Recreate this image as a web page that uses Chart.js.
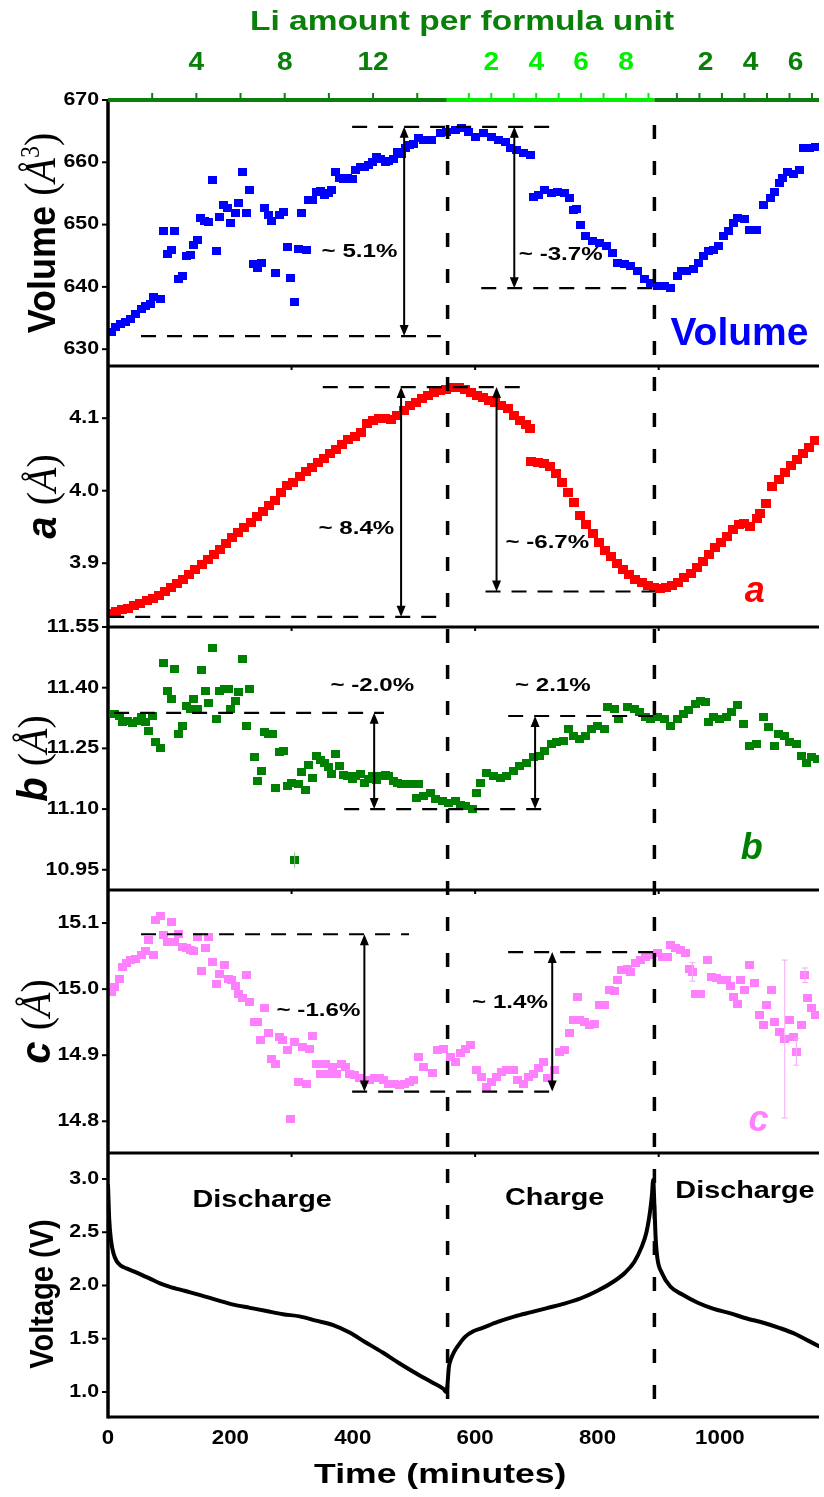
<!DOCTYPE html>
<html>
<head>
<meta charset="utf-8">
<script src="https://cdn.jsdelivr.net/npm/chart.js@4.4.1/dist/chart.umd.min.js"></script>
<style>
  html, body { margin: 0; padding: 0; background: #ffffff; overflow: hidden; }
  canvas { display: block; }
</style>
</head>
<body>
<canvas id="chart" width="824" height="1497"></canvas>
<script>
// ---------------- data (time in minutes) ----------------
const timeTicks = [0, 200, 400, 600, 800, 1000];
const volumeTicks = [630, 640, 650, 660, 670];
const aTicks = [3.9, 4.0, 4.1];
const bTicks = [10.95, 11.10, 11.25, 11.40, 11.55];
const cTicks = [14.8, 14.9, 15.0, 15.1];
const voltageTicks = [1.0, 1.5, 2.0, 2.5, 3.0];
const frameTicks = [300, 600, 900];

// end of first discharge and end of charge
const phaseBounds = [555, 893];

// Li per formula unit along the top axis: [start time, end time, minutes per Li, tick step, labelled values]
const liDischarge1 = [0, 555, 36.1, 2, [4, 8, 12]];
const liCharge = [553, 893, 36.7, 1, [2, 4, 6, 8]];
const liDischarge2 = [893, 1200, 36.8, 1, [2, 4, 6]];

// unit-cell volume (Å^3)
const volumePoints = [
  [5,632.7],[13,633.5],[21,634.0],[29,634.3],[37,634.8],[45,635.6],[54,636.4],[62,636.9],[70,637.2],[75,638.3],
  [86,638.0],[91,648.9],[97,645.2],[103,646.0],[109,648.9],[116,641.2],[122,641.7],[128,644.9],[135,645.1],[140,646.8],
  [147,647.6],[151,651.1],[157,650.6],[164,650.4],[170,657.1],[177,645.8],[183,651.2],[189,653.2],[196,652.7],[201,650.3],
  [208,651.9],[213,653.5],[220,658.5],[226,651.8],[232,655.6],[237,643.6],[244,643.1],[251,643.8],[256,652.7],[262,651.5],
  [267,650.6],[274,642.2],[281,651.5],[287,652.0],[293,646.4],[298,641.5],[304,637.6],[311,646.1],[317,651.8],[324,645.9],
  [328,654.0],[335,654.0],[340,655.2],[347,655.4],[354,654.8],[360,655.0],[366,655.6],[372,658.5],[378,657.5],[385,657.3],
  [392,657.5],[399,657.3],[405,658.8],[412,659.2],[419,659.2],[426,659.6],[432,660.1],[439,660.9],[446,660.6],[453,660.1],
  [459,660.2],[466,660.6],[473,661.7],[480,661.3],[486,662.3],[493,662.8],[500,663.0],[507,663.9],[516,663.6],[529,663.6],
  [543,664.7],[554,664.9],[568,665.2],[578,665.5],[589,664.9],[600,664.1],[614,664.7],[627,664.1],[638,663.6],[649,663.3],
  [657,662.3],[668,662.0],[679,661.5],[690,661.2],
  [695,654.5],[703,654.8],[714,655.6],[725,655.0],[735,655.3],[746,655.0],[754,654.3],[760,652.4],[765,652.5],[772,650.0],
  [781,648.1],[792,647.3],[803,647.1],[814,646.5],[825,645.5],[833,643.9],[844,643.6],[854,643.4],[865,642.5],[876,641.2],
  [887,640.7],[898,640.1],[909,640.1],[919,639.9],[930,641.7],[938,642.5],[946,642.5],[957,642.8],[965,643.9],[973,644.9],
  [981,645.7],[990,646.0],[998,646.5],[1006,648.1],[1014,648.9],[1022,650.3],[1029,651.1],[1041,650.9],[1048,649.2],[1060,649.2],
  [1071,653.2],[1082,654.3],[1090,655.3],[1098,656.7],[1103,657.5],[1111,658.5],[1120,658.2],[1130,658.8],[1136,662.3],[1147,662.3],
  [1157,662.5]
];

// lattice parameter a (Å)
const aPoints = [
  [3,3.830],[13,3.833],[23,3.836],[33,3.838],[43,3.841],[53,3.845],[63,3.849],[73,3.852],[83,3.856],[93,3.861],
  [103,3.866],[113,3.872],[123,3.878],[133,3.884],[143,3.891],[153,3.898],[163,3.905],[173,3.912],[183,3.919],[193,3.927],
  [203,3.935],[213,3.942],[223,3.949],[233,3.956],[243,3.964],[253,3.972],[263,3.980],[273,3.986],[283,3.998],[293,4.007],
  [303,4.012],[313,4.019],[323,4.026],[333,4.032],[343,4.039],[353,4.045],[363,4.051],[373,4.057],[383,4.064],[393,4.071],
  [403,4.075],[413,4.080],[423,4.093],[433,4.097],[443,4.099],[453,4.100],[463,4.098],[473,4.104],[483,4.111],[493,4.117],
  [503,4.122],[513,4.127],[523,4.131],[533,4.135],[543,4.138],[553,4.140],[563,4.142],[573,4.143],[583,4.140],[593,4.135],
  [603,4.131],[613,4.128],[623,4.125],[633,4.121],[643,4.118],[653,4.113],[663,4.104],[673,4.097],[683,4.091],[690,4.086],
  [692,4.040],[702,4.039],[712,4.037],[722,4.034],[732,4.024],[742,4.011],[752,3.998],[762,3.984],[772,3.966],[782,3.953],
  [792,3.941],[802,3.929],[812,3.918],[822,3.909],[832,3.900],[842,3.892],[852,3.884],[862,3.878],[872,3.873],[882,3.869],
  [892,3.866],[902,3.865],[912,3.866],[922,3.869],[932,3.874],[942,3.880],[952,3.886],[962,3.894],[972,3.903],[982,3.912],
  [992,3.921],[1002,3.929],[1012,3.937],[1022,3.946],[1032,3.953],[1040,3.955],[1050,3.950],[1060,3.962],[1066,3.969],[1076,3.982],
  [1086,4.006],[1096,4.015],[1106,4.025],[1116,4.035],[1126,4.043],[1136,4.051],[1146,4.060],[1156,4.069]
];

// lattice parameter b (Å)
const bPoints = [
  [10,11.335],[18,11.331],[24,11.315],[32,11.318],[40,11.313],[48,11.318],[54,11.327],[62,11.315],[67,11.294],[73,11.331],
  [78,11.265],[85,11.252],[91,11.461],[97,11.393],[103,11.373],[109,11.447],[116,11.286],[122,11.306],[128,11.354],[135,11.348],
  [140,11.371],[147,11.348],[152,11.443],[159,11.393],[165,11.363],[170,11.497],[177,11.323],[183,11.393],[190,11.398],[197,11.396],
  [201,11.348],[208,11.368],[213,11.389],[220,11.472],[226,11.306],[232,11.398],[239,11.228],[244,11.169],[251,11.193],[256,11.290],
  [263,11.286],[269,11.286],[274,11.153],[280,11.240],[287,11.243],[293,11.157],[300,11.165],[305,10.973],[311,11.161],[316,11.192],
  [323,11.147],[328,11.209],[335,11.178],[340,11.232],[347,11.222],[354,11.213],[360,11.203],[366,11.186],[372,11.236],[378,11.207],
  [385,11.184],[392,11.181],[399,11.175],[405,11.181],[412,11.186],[419,11.165],[426,11.175],[432,11.181],[439,11.173],[446,11.181],
  [453,11.184],[459,11.181],[466,11.169],[473,11.165],[480,11.161],[486,11.161],[494,11.161],[505,11.128],[508,11.161],[516,11.132],
  [527,11.140],[535,11.124],[546,11.120],[557,11.116],[568,11.120],[576,11.111],[584,11.107],[595,11.099],[603,11.140],[608,11.165],
  [619,11.190],[630,11.182],[641,11.178],[651,11.182],[662,11.194],[673,11.207],[684,11.215],[695,11.228],[706,11.232],[714,11.244],
  [725,11.261],[733,11.265],[744,11.269],[752,11.298],[760,11.281],[771,11.273],[781,11.281],[790,11.298],[800,11.306],[811,11.298],
  [817,11.352],[827,11.348],[835,11.323],[849,11.352],[860,11.348],[868,11.340],[879,11.327],[887,11.323],[898,11.327],[909,11.323],
  [919,11.306],[930,11.323],[941,11.335],[949,11.344],[960,11.360],[968,11.368],[976,11.365],[982,11.315],[990,11.327],[1000,11.323],
  [1011,11.327],[1019,11.340],[1028,11.356],[1038,11.310],[1049,11.256],[1060,11.261],[1071,11.327],[1079,11.302],[1090,11.256],[1095,11.286],
  [1106,11.281],[1114,11.265],[1125,11.261],[1133,11.232],[1141,11.215],[1149,11.228],[1160,11.224]
];

// lattice parameter c (Å)
const cPoints = [
  [5,14.996],[10,15.003],[18,15.016],[24,15.034],[31,15.039],[37,15.044],[45,15.046],[54,15.052],[62,15.057],[67,15.074],
  [74,15.052],[78,15.105],[86,15.110],[91,15.082],[97,15.072],[103,15.102],[109,15.072],[116,15.084],[121,15.064],[128,15.062],
  [135,15.059],[140,15.057],[147,15.079],[152,15.028],[159,15.062],[165,15.079],[170,15.041],[177,15.008],[183,15.023],[190,15.037],
  [197,15.016],[202,15.014],[208,15.004],[213,14.993],[220,14.986],[226,15.021],[232,14.981],[239,14.950],[244,14.950],[249,14.923],
  [256,14.971],[262,14.933],[267,14.895],[274,14.887],[280,14.928],[286,14.923],[293,14.908],[298,14.804],[305,14.920],[311,14.860],
  [318,14.913],[324,14.856],[330,14.910],[335,14.929],[341,14.886],[348,14.872],[355,14.887],[362,14.872],[367,14.882],[373,14.872],
  [381,14.887],[388,14.882],[394,14.872],[403,14.870],[411,14.865],[419,14.862],[427,14.862],[435,14.865],[443,14.865],[451,14.862],
  [459,14.857],[468,14.857],[476,14.855],[484,14.857],[492,14.860],[500,14.863],[508,14.897],[516,14.882],[530,14.873],[538,14.908],
  [549,14.910],[560,14.897],[568,14.890],[576,14.903],[584,14.910],[592,14.915],[603,14.877],[611,14.867],[619,14.852],[627,14.860],
  [635,14.867],[643,14.875],[651,14.877],[662,14.877],[670,14.862],[679,14.857],[687,14.867],[695,14.872],[703,14.880],[711,14.890],
  [719,14.865],[730,14.877],[738,14.905],[746,14.908],[754,14.933],[760,14.953],[768,14.988],[771,14.953],[779,14.950],[787,14.945],
  [795,14.947],[803,14.976],[811,14.976],[820,14.998],[827,14.997],[833,15.014],[839,15.029],[849,15.031],[854,15.026],[862,15.039],
  [871,15.044],[879,15.049],[887,15.052],[898,15.054],[906,15.049],[914,15.049],[919,15.067],[928,15.062],[936,15.059],[944,15.054],
  [951,15.031],[955,15.026],[960,14.993],[969,14.993],[979,15.044],[987,15.019],[995,15.017],[1003,15.014],[1011,15.014],[1017,15.004],
  [1023,14.988],[1029,14.978],[1034,15.014],[1041,14.998],[1048,15.036],[1057,15.009],[1065,14.961],[1071,14.945],[1077,14.976],[1084,14.998],
  [1090,14.950],[1098,14.935],[1106,14.925],[1114,14.953],[1120,14.928],[1125,14.905],[1133,14.945],[1139,15.021],[1144,14.986],[1149,14.971],
  [1157,14.961]
];

// fit uncertainties: [time, low, high]
const bErrorBars = [[305, 10.955, 10.993]];
const cErrorBars = [[1106, 14.805, 15.044], [1125, 14.885, 14.925], [1139, 15.010, 15.032], [955, 15.012, 15.040]];

// cell voltage (V)
const voltagePoints = [
  [0,2.95],[2,2.62],[5,2.42],[9,2.30],[14,2.23],[20,2.19],[30,2.16],[43,2.13],[55,2.10],[70,2.06],
  [85,2.02],[100,1.99],[125,1.95],[151,1.91],[180,1.86],[205,1.82],[232,1.79],[259,1.76],[286,1.73],[313,1.71],
  [340,1.67],[367,1.63],[394,1.56],[420,1.47],[449,1.37],[476,1.27],[508,1.16],[530,1.09],[548,1.03],[553,1.00],
  [555,1.08],[557,1.23],[560,1.30],[565,1.37],[574,1.45],[584,1.52],[597,1.57],[611,1.60],[638,1.66],[665,1.71],
  [692,1.75],[719,1.79],[746,1.83],[773,1.88],[800,1.95],[827,2.04],[845,2.12],[860,2.22],[872,2.36],[880,2.50],
  [886,2.70],[889,2.85],[891,2.99],[893,2.75],[895,2.45],[898,2.25],[905,2.12],[919,1.99],[940,1.91],[963,1.84],
  [990,1.78],[1016,1.74],[1044,1.69],[1071,1.65],[1098,1.60],[1125,1.54],[1145,1.48],[1165,1.42]
];

// reference levels [axis, from time, to time, value]
const guideLevels = [
  ['yV', 399, 730, 665.7], ['yV', 54, 544, 632.1], ['yV', 610, 894, 639.8],
  ['yA', 351, 680, 4.143], ['yA', 2, 547, 3.826], ['yA', 617, 894, 3.861],
  ['yB', 10, 451, 11.338], ['yB', 386, 716, 11.100], ['yB', 654, 906, 11.330],
  ['yC', 54, 492, 15.083], ['yC', 399, 727, 14.845], ['yC', 654, 894, 15.056]
];
// double arrows [axis, time, from, to]
const changeSpans = [
  ['yV', 484, 665.7, 632.1], ['yV', 664, 665.7, 639.8],
  ['yA', 479, 4.143, 3.826], ['yA', 635, 4.143, 3.861],
  ['yB', 435, 11.338, 11.100], ['yB', 698, 11.330, 11.100],
  ['yC', 419, 15.083, 14.845], ['yC', 726, 15.056, 14.845]
];
const changeLabels = [
  ['yV', 411, 645.7, '~ 5.1%'], ['yV', 740, 645.2, '~ -3.7%'],
  ['yA', 406, 3.948, '~ 8.4%'], ['yA', 718, 3.928, '~ -6.7%'],
  ['yB', 432, 11.405, '~ -2.0%'], ['yB', 727, 11.405, '~ 2.1%'],
  ['yC', 344, 14.968, '~ -1.6%'], ['yC', 657, 14.979, '~ 1.4%']
];
const phaseLabels = [['Discharge', 252, 2.80], ['Charge', 730, 2.82], ['Discharge', 1041, 2.88]];

// ---------------- styling helpers ----------------
const SANS = '"Liberation Sans", Arial, sans-serif';
const SERIF = '"Liberation Serif", "Times New Roman", serif';
const DARK_GREEN = '#0a800a';
const LIGHT_GREEN = '#00f000';
const PANEL_W = 108;

function squareMarker(color, w, h) {
  const c = document.createElement('canvas');
  c.width = w; c.height = h;
  const g = c.getContext('2d');
  g.fillStyle = color;
  g.fillRect(0, 0, w, h);
  return c;
}

function toXY(points) { return points.map(([x, y]) => ({ x, y })); }

function text(ctx, str, x, y, font, color, align, sx) {
  ctx.save();
  ctx.font = font;
  ctx.fillStyle = color;
  ctx.textAlign = align || 'center';
  ctx.textBaseline = 'middle';
  ctx.translate(x, y);
  ctx.scale(sx || 1, 1);
  ctx.fillText(str, 0, 0);
  ctx.restore();
}

// vertical axis title built from runs of differently styled text
function rotatedTitle(ctx, runs, baselineX, centerY, stretch) {
  ctx.save();
  ctx.translate(baselineX, centerY);
  ctx.rotate(-Math.PI / 2);
  ctx.scale(1, stretch);
  ctx.fillStyle = '#000';
  ctx.textAlign = 'left';
  ctx.textBaseline = 'alphabetic';
  let total = 0;
  runs.forEach(r => { ctx.font = r.font; r.w = ctx.measureText(r.t).width; total += r.w; });
  let x = -total / 2;
  runs.forEach(r => { ctx.font = r.font; ctx.fillText(r.t, x, r.dy || 0); x += r.w; });
  ctx.restore();
}

function hLine(ctx, x1, x2, y) { ctx.beginPath(); ctx.moveTo(x1, y); ctx.lineTo(x2, y); ctx.stroke(); }
function vLine(ctx, x, y1, y2) { ctx.beginPath(); ctx.moveTo(x, y1); ctx.lineTo(x, y2); ctx.stroke(); }

function doubleArrow(ctx, x, yTop, yBot) {
  const hl = 11, hw = 4.5;
  ctx.lineWidth = 2;
  vLine(ctx, x, yTop + 4, yBot - 4);
  ctx.beginPath();
  ctx.moveTo(x, yTop); ctx.lineTo(x - hw, yTop + hl); ctx.lineTo(x + hw, yTop + hl); ctx.closePath();
  ctx.moveTo(x, yBot); ctx.lineTo(x - hw, yBot - hl); ctx.lineTo(x + hw, yBot - hl); ctx.closePath();
  ctx.fill();
}

// ---------------- annotation / frame plugin ----------------
const panelDecor = {
  id: 'panelDecor',
  afterDatasetsDraw(chart) {
    const ctx = chart.ctx;
    const xs = chart.scales.x;
    const S = chart.scales;
    ctx.save();
    ctx.strokeStyle = '#000';
    ctx.fillStyle = '#000';

    // uncertainty bars
    ctx.lineWidth = 1;
    ctx.strokeStyle = '#f6a8f6';
    cErrorBars.forEach(([t, lo, hi]) => {
      const x = xs.getPixelForValue(t);
      vLine(ctx, x, S.yC.getPixelForValue(hi), S.yC.getPixelForValue(lo));
      hLine(ctx, x - 3, x + 3, S.yC.getPixelForValue(hi));
      hLine(ctx, x - 3, x + 3, S.yC.getPixelForValue(lo));
    });
    ctx.strokeStyle = '#7fbf7f';
    bErrorBars.forEach(([t, lo, hi]) => {
      const x = xs.getPixelForValue(t);
      vLine(ctx, x, S.yB.getPixelForValue(hi), S.yB.getPixelForValue(lo));
    });
    ctx.strokeStyle = '#000';

    // horizontal reference levels
    ctx.lineWidth = 2.2;
    ctx.setLineDash([15, 11]);
    guideLevels.forEach(([id, t1, t2, v]) => {
      hLine(ctx, xs.getPixelForValue(t1), xs.getPixelForValue(t2), S[id].getPixelForValue(v));
    });

    // phase boundaries through all panels
    ctx.lineWidth = 3.5;
    ctx.setLineDash([14, 22]);
    phaseBounds.forEach(t => {
      vLine(ctx, xs.getPixelForValue(t), S.yV.getPixelForValue(666), chart.chartArea.bottom);
    });
    ctx.setLineDash([]);

    // change arrows and labels
    changeSpans.forEach(([id, t, v1, v2]) => {
      doubleArrow(ctx, xs.getPixelForValue(t), S[id].getPixelForValue(v1), S[id].getPixelForValue(v2));
    });
    changeLabels.forEach(([id, t, v, s]) => {
      text(ctx, s, xs.getPixelForValue(t), S[id].getPixelForValue(v), 'bold 19px ' + SANS, '#000', 'center', 1.27);
    });
    phaseLabels.forEach(([s, t, v]) => {
      text(ctx, s, xs.getPixelForValue(t), S.yU.getPixelForValue(v), 'bold 24px ' + SANS, '#000', 'center', 1.2);
    });

    // panel tags
    text(ctx, 'Volume', xs.getPixelForValue(1032), S.yV.getPixelForValue(632.4), 'bold 39px ' + SANS, '#0000ff', 'center', 1);
    text(ctx, 'a', xs.getPixelForValue(1057), S.yA.getPixelForValue(3.860), 'italic bold 36px ' + SANS, '#ff0000', 'center', 1);
    text(ctx, 'b', xs.getPixelForValue(1052), S.yB.getPixelForValue(11.0), 'italic bold 36px ' + SANS, '#008000', 'center', 1);
    text(ctx, 'c', xs.getPixelForValue(1063), S.yC.getPixelForValue(14.80), 'italic bold 36px ' + SANS, '#ff80ff', 'center', 1);
    ctx.restore();
  },
  afterDraw(chart) {
    const ctx = chart.ctx;
    const xs = chart.scales.x;
    const S = chart.scales;
    const L = chart.chartArea.left, R = chart.chartArea.right;
    ctx.save();
    ctx.strokeStyle = '#000';
    ctx.fillStyle = '#000';

    // panel frames
    ctx.lineWidth = 3;
    ['yV', 'yA', 'yB', 'yC', 'yU'].forEach(id => hLine(ctx, L, R, S[id].bottom));
    ctx.lineWidth = 2;
    ['yA', 'yB', 'yC', 'yU'].forEach(id => {
      frameTicks.forEach(t => vLine(ctx, xs.getPixelForValue(t), S[id].top, S[id].top + 4));
    });
    ctx.lineWidth = 3.5;
    vLine(ctx, L, S.yV.top - 1, S.yU.bottom + 1.5);

    // left tick marks and labels
    const tickFont = 'bold 17.5px ' + SANS;
    const yAxes = [['yV', volumeTicks, 0], ['yA', aTicks, 1], ['yB', bTicks, 2], ['yC', cTicks, 1], ['yU', voltageTicks, 1]];
    ctx.lineWidth = 2;
    yAxes.forEach(([id, ticks, dec]) => {
      ticks.forEach(v => {
        const y = S[id].getPixelForValue(v);
        hLine(ctx, L - 6, L, y);
        text(ctx, v.toFixed(dec), L - 9, y, tickFont, '#000', 'right', 1.22);
      });
    });

    // bottom time axis
    timeTicks.forEach(t => {
      text(ctx, String(t), xs.getPixelForValue(t), chart.chartArea.bottom + 21, 'bold 21px ' + SANS, '#000', 'center', 1.06);
    });
    text(ctx, 'Time (minutes)', xs.getPixelForValue(543), chart.chartArea.bottom + 58, 'bold 28px ' + SANS, '#000', 'center', 1.27);

    // vertical titles
    const big = 'bold 36px ' + SANS;
    rotatedTitle(ctx, [
      { t: 'Volume ', font: big },
      { t: '(', font: '40px ' + SERIF },
      { t: 'Å', font: 'italic 40px ' + SERIF },
      { t: '3', font: '24px ' + SERIF, dy: -15 },
      { t: ')', font: '40px ' + SERIF }
    ], 55, (S.yV.top + S.yV.bottom) / 2, 1.1);
    [['a', 'yA', 56], ['b', 'yB', 47], ['c', 'yC', 50]].forEach(([ch, id, bx]) => {
      rotatedTitle(ctx, [
        { t: ch + ' ', font: 'italic bold 40px ' + SANS },
        { t: '(', font: '40px ' + SERIF },
        { t: 'Å', font: 'italic 40px ' + SERIF },
        { t: ')', font: '40px ' + SERIF }
      ], bx, (S[id].top + S[id].bottom) / 2, 1.05);
    });
    rotatedTitle(ctx, [{ t: 'Voltage (V)', font: 'bold 29px ' + SANS }], 53, (S.yU.top + S.yU.bottom) / 2 + 9, 1.12);

    // top axis: Li amount per formula unit
    const topY = chart.chartArea.top;
    [[liDischarge1, DARK_GREEN, 0], [liCharge, LIGHT_GREEN, 0], [liDischarge2, DARK_GREEN, 6]].forEach(([seg, color, shift]) => {
      const [t0, t1, perLi, step, labels] = seg;
      const x0 = Math.max(L, xs.getPixelForValue(t0));
      const x1 = Math.min(R, xs.getPixelForValue(t1));
      ctx.strokeStyle = color;
      ctx.lineWidth = 4;
      hLine(ctx, x0, x1, topY);
      ctx.lineWidth = 2;
      for (let k = step; t0 + k * perLi < t1 - 5; k += step) {
        const x = xs.getPixelForValue(t0 + k * perLi);
        if (x < R) vLine(ctx, x, topY - 7, topY);
      }
      labels.forEach(n => {
        const x = xs.getPixelForValue(t0 + n * perLi) + shift;
        text(ctx, String(n), x, topY - 37, 'bold 26px ' + SANS, color, 'center', 1.08);
      });
    });
    text(ctx, 'Li amount per formula unit', 462, 23, 'bold 27px ' + SANS, DARK_GREEN, 'center', 1.24);
    ctx.restore();
  }
};

// ---------------- chart ----------------
function panelScale(min, max, weight) {
  return {
    type: 'linear', position: 'left', stack: 'panels', stackWeight: weight, offset: false,
    min, max,
    grid: { display: false }, border: { display: false }, ticks: { display: false },
    afterFit(s) { s.width = PANEL_W; }
  };
}

function markerSet(points, axis, color, w, h) {
  return {
    data: toXY(points), yAxisID: axis, showLine: false,
    pointStyle: squareMarker(color, w, h), pointRadius: 4, pointHoverRadius: 4
  };
}

new Chart(document.getElementById('chart'), {
  type: 'scatter',
  data: {
    datasets: [
      markerSet(volumePoints, 'yV', '#0000ff', 9, 8),
      markerSet(aPoints, 'yA', '#ff0000', 10, 9),
      markerSet(bPoints, 'yB', '#008000', 9, 8),
      markerSet(cPoints, 'yC', '#ff80ff', 9, 8),
      {
        data: toXY(voltagePoints), yAxisID: 'yU', showLine: true, pointRadius: 0,
        borderColor: '#000', borderWidth: 4, cubicInterpolationMode: 'monotone', fill: false
      }
    ]
  },
  options: {
    responsive: false,
    animation: false,
    devicePixelRatio: 1,
    layout: { padding: { top: 100, left: 0, right: 0, bottom: 0 } },
    plugins: { legend: { display: false }, tooltip: { enabled: false } },
    scales: {
      x: {
        type: 'linear', position: 'bottom', min: 0, max: 1162,
        grid: { display: false }, border: { display: false }, ticks: { display: false },
        afterFit(s) { s.height = 80; }
      },
      yU: panelScale(0.765, 3.244, 264),
      yC: panelScale(14.752, 15.15, 263),
      yB: panelScale(10.90, 11.55, 263),
      yA: panelScale(3.812, 4.172, 261),
      yV: panelScale(627.3, 670, 266)
    }
  },
  plugins: [panelDecor]
});
</script>
</body>
</html>
